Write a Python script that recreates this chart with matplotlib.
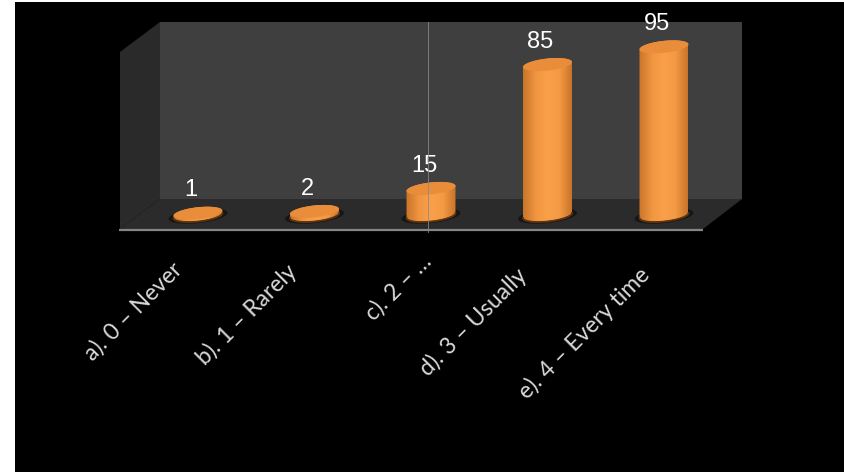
import numpy as np
import matplotlib
matplotlib.use("Agg")
import matplotlib.pyplot as plt
from matplotlib.patches import Polygon, Rectangle
from matplotlib.colors import LinearSegmentedColormap

categories = ["a). 0 – Never", "b). 1 – Rarely", "c). 2 – …", "d). 3 – Usually", "e). 4 – Every time"]
values = [1, 2, 15, 85, 95]

W, H = 845, 472
fig = plt.figure(figsize=(W / 100, H / 100), dpi=100, facecolor="white")

# scene layer in pixel coordinates
bg = fig.add_axes([0, 0, 1, 1])
bg.set_xlim(0, W); bg.set_ylim(H, 0); bg.axis("off")
bg.add_patch(Rectangle((15, 2), W - 15, H - 2, fc="black", ec="none"))
bg.add_patch(Polygon([(160, 22), (742, 22), (742, 199), (160, 199)], fc="#3f3f3f", ec="none"))
bg.add_patch(Polygon([(120, 52), (160, 22), (160, 199), (120, 229)], fc="#2a2a2a", ec="none"))
bg.add_patch(Polygon([(120, 229), (160, 199), (742, 199), (703, 229)], fc="#2b2b2b", ec="none"))
bg.plot([119, 703], [229.5, 229.5], color="#858585", lw=1.6, solid_capstyle="butt")

# chart axes: x=0 at px 198, step 116.5; y=0 at px 215, 1.77 px per unit
X0, STEP, Y0, PXU = 198.0, 116.5, 215.0, 1.77
ymin, ymax = -15, 110
ax = fig.add_axes([(X0 - STEP * 0.5) / W, 1 - (Y0 - ymin * PXU) / H,
                   STEP * len(values) / W, (ymax - ymin) * PXU / H], facecolor="none")
ax.axis("off")

cmap = LinearSegmentedColormap.from_list("cyl", ["#c9752a", "#ef9440", "#fba04a", "#f59a44", "#c8742a"])
hw = 24.5 / STEP      # half width, data units
ry = 6.0 / PXU        # ellipse half height, data units
tilt = 2.5 / PXU      # right side raised

def ell(xc, yc, t, k=1.0):
    return xc + k * hw * np.cos(t), yc + k * (ry * np.sin(t) + tilt * np.cos(t))

t = np.linspace(0, 2 * np.pi, 80)
for i, v in enumerate(values):
    # dark shadow on the floor
    ax.fill(*ell(i, -0.5, t, 1.2), color="#161616", lw=0, zorder=1)
    lo = np.linspace(np.pi, 2 * np.pi, 40)
    hi = np.linspace(0, np.pi, 40)
    bx, by = ell(i, 0, lo)
    tx, ty = ell(i, v, hi)
    body = Polygon(np.column_stack([np.r_[bx, tx], np.r_[by, ty]]), closed=True,
                   fc="none", ec="none", transform=ax.transData)
    ax.add_patch(body)
    im = ax.imshow(np.linspace(0, 1, 64)[None, :], cmap=cmap, aspect="auto",
                   extent=[i - hw, i + hw, ymin, v + 15], zorder=2)
    im.set_clip_path(body)
    # dark rim at the base
    ax.plot(bx, by - 0.3, color="#5e3410", lw=1.3, zorder=3)
    # top cap
    ax.fill(*ell(i, v, t), color="#e98d3a", lw=0, zorder=4)
    # data label
    ax.annotate(str(v), (i, v), xytext=(-5, 16.5), textcoords="offset points",
                ha="center", va="center", color="white", fontsize=17,
                family="Liberation Sans", zorder=5)
ax.set_xlim(-0.5, len(values) - 0.5)
ax.set_ylim(ymin, ymax)

# gridline drawn over the bars
bg_top = fig.add_axes([0, 0, 1, 1], facecolor="none")
bg_top.set_xlim(0, W); bg_top.set_ylim(H, 0); bg_top.axis("off")
bg_top.plot([428, 428], [22, 232], color="#8a8a8a", lw=0.7, alpha=0.8)

# rotated category labels, right end anchored under the axis
clip = Rectangle((0, 260), W, H - 260, transform=bg_top.transData, fc="none", ec="none")
bg_top.add_patch(clip)
ends = [(171, 258), (285, 260), (420, 250), (516, 264), (638, 263)]
for c, (ex, ey) in zip(categories, ends):
    tx = bg_top.text(ex, ey, c, rotation=45, rotation_mode="anchor",
                     ha="right", va="top", color="#d9d9d9", fontsize=16.5, family="Lato")
    tx.set_clip_path(clip)

fig.savefig("out.png", dpi=100, facecolor=fig.get_facecolor())
